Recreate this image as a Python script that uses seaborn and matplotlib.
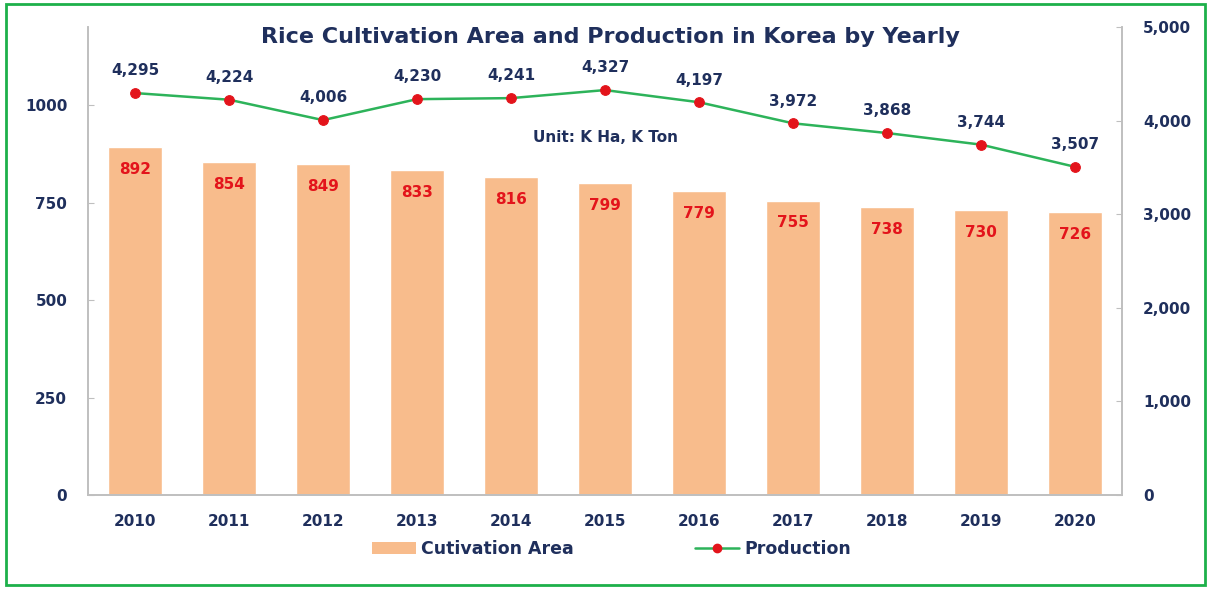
"""
Rice cultivation area (bars) and production (line) in Korea, 2010-2020.
Writes out.png
"""

import numpy as np
import pandas as pd
import matplotlib
matplotlib.use("Agg")
import matplotlib.pyplot as plt
from matplotlib.patches import Patch, Rectangle
from matplotlib.lines import Line2D
from matplotlib.ticker import FuncFormatter, FixedLocator
import seaborn as sns

# ---- data ----
years = ["2010", "2011", "2012", "2013", "2014", "2015",
         "2016", "2017", "2018", "2019", "2020"]
area = [892, 854, 849, 833, 816, 799, 779, 755, 738, 730, 726]
production = [4295, 4224, 4006, 4230, 4241, 4327, 4197, 3972, 3868, 3744, 3507]

# ---- style ----
NAVY = "#1F2F5C"
RED = "#E3141B"
BAR = "#F8BC8C"
GREEN = "#2DB35A"
SPINE = "#BFBFBF"

sns.set_style("white")
plt.rcParams["font.family"] = ["DejaVu Sans"]
plt.rcParams["font.weight"] = "bold"

df = pd.DataFrame({"year": years, "area": area, "production": production})

fig = plt.figure(figsize=(12.11, 5.89), dpi=100)
ax = fig.add_axes([0.0727, 0.1596, 0.8538, 0.7944])

sns.barplot(data=df, x="year", y="area", color=BAR, width=0.57,
            saturation=1, ax=ax)
ax.set_ylim(0, 1200)
ax.set_xlim(-0.5, len(years) - 0.5)
ax.set_yticks([0, 250, 500, 750, 1000])
ax.set_xlabel("")
ax.set_ylabel("")

ax2 = ax.twinx()
sns.lineplot(x=np.arange(len(years)), y=production, ax=ax2, color=GREEN,
             linewidth=1.8, marker="o", markersize=7,
             markerfacecolor=RED, markeredgecolor=RED)
ax2.set_ylim(0, 5000)
ax2.set_yticks(range(0, 5001, 1000))
ax2.yaxis.set_major_formatter(FuncFormatter(lambda v, p: f"{int(v):,}"))

# spines / ticks
for a in (ax, ax2):
    a.spines["top"].set_visible(False)
    for s in ("left", "right", "bottom"):
        a.spines[s].set_color(SPINE)
        a.spines[s].set_linewidth(1.2)
    a.tick_params(colors=NAVY, labelsize=11)
ax.tick_params(axis="x", length=0, pad=14)
ax.tick_params(axis="y", direction="in", length=4, color=SPINE, pad=15)
ax2.tick_params(axis="y", direction="in", length=4, color=SPINE, pad=15)
# small marks between categories on the bottom axis
ax.xaxis.set_minor_locator(FixedLocator(np.arange(0.5, len(years) - 1, 1.0)))
ax.tick_params(axis="x", which="minor", direction="in", length=4, color=SPINE)
for lbl in ax.get_xticklabels() + ax.get_yticklabels() + ax2.get_yticklabels():
    lbl.set_fontweight("bold")
    lbl.set_color(NAVY)

# bar labels
for i, v in enumerate(area):
    ax.annotate(f"{v}", (i, v), xytext=(0, -16), textcoords="offset points",
                ha="center", va="center", color=RED, fontsize=11,
                fontweight="bold")

# production labels
for i, v in enumerate(production):
    ax2.annotate(f"{v:,}", (i, v), xytext=(0, 16), textcoords="offset points",
                 ha="center", va="center", color=NAVY, fontsize=11,
                 fontweight="bold")

fig.text(610 / 1211, 1 - 37 / 589,
         "Rice Cultivation Area and Production in Korea by Yearly",
         ha="center", va="center", color=NAVY, fontsize=16, fontweight="bold")
ax.text(0.5, 0.763, "Unit: K Ha, K Ton", transform=ax.transAxes,
        ha="center", va="center", color=NAVY, fontsize=11, fontweight="bold")

# legend
handles = [
    Patch(facecolor=BAR, edgecolor="none", label="Cutivation Area"),
    Line2D([0], [0], color=GREEN, lw=1.8, marker="o", markersize=6,
           markerfacecolor=RED, markeredgecolor=RED, label="Production"),
]
leg = fig.legend(handles=handles, loc="center", bbox_to_anchor=(0.505, 0.068),
                 ncol=2, frameon=False, columnspacing=7, handlelength=2.5,
                 handletextpad=0.3, prop={"size": 12.5, "weight": "bold"})
for t in leg.get_texts():
    t.set_color(NAVY)

# green frame
fig.patches.append(Rectangle((0.005, 0.006), 0.99, 0.988,
                             transform=fig.transFigure, fill=False,
                             edgecolor="#1DB04A", linewidth=2))

fig.savefig("out.png", dpi=100)
